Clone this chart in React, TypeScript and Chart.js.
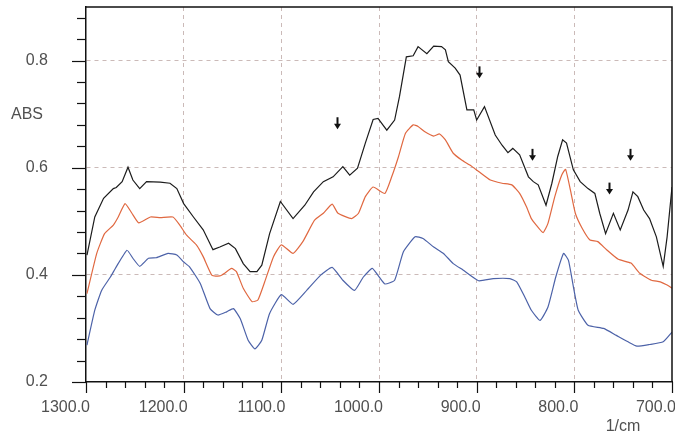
import React, { useEffect, useRef } from "react";
import { Chart, registerables } from "chart.js";

Chart.register(...registerables);

// Black spectrum (wavenumber, ABS)
const blackX = [1299, 1291, 1282, 1272, 1269, 1263, 1257, 1252, 1245, 1238, 1224, 1214, 1207, 1200, 1190, 1180, 1170, 1163, 1154, 1147, 1139, 1132, 1125, 1120, 1112, 1101, 1088, 1076, 1067, 1057, 1047, 1037, 1030, 1022, 1014, 1006, 1001, 992, 984, 979, 972, 965, 960, 951, 944, 936, 932, 929, 922, 917, 910, 903, 900, 892, 881, 874, 868, 863, 856, 847, 842, 837, 829, 823, 817, 812, 808, 801, 794, 786, 779, 774, 768, 760, 753, 745, 740, 735, 729, 723, 716, 709, 705, 700];
const blackY = [0.437, 0.508, 0.543, 0.561, 0.563, 0.574, 0.601, 0.577, 0.561, 0.574, 0.573, 0.571, 0.561, 0.533, 0.508, 0.484, 0.447, 0.452, 0.459, 0.449, 0.421, 0.406, 0.406, 0.418, 0.477, 0.537, 0.505, 0.530, 0.555, 0.574, 0.583, 0.602, 0.586, 0.599, 0.646, 0.690, 0.692, 0.670, 0.689, 0.733, 0.807, 0.809, 0.826, 0.813, 0.827, 0.826, 0.820, 0.798, 0.786, 0.773, 0.708, 0.708, 0.689, 0.714, 0.661, 0.642, 0.628, 0.636, 0.624, 0.583, 0.574, 0.568, 0.530, 0.571, 0.621, 0.652, 0.646, 0.596, 0.574, 0.561, 0.552, 0.515, 0.477, 0.515, 0.484, 0.521, 0.555, 0.546, 0.521, 0.505, 0.471, 0.416, 0.471, 0.564];

// Orange spectrum
const orangeX = [1299, 1289, 1281, 1272, 1267, 1260, 1253, 1246, 1234, 1224, 1211, 1204, 1197, 1187, 1180, 1171, 1163, 1158, 1151, 1146, 1139, 1130, 1124, 1117, 1108, 1100, 1088, 1078, 1066, 1057, 1048, 1042, 1028, 1021, 1014, 1006, 994, 987, 980, 973, 965, 960, 953, 944, 938, 932, 924, 915, 907, 898, 886, 874, 864, 856, 849, 844, 839, 832, 827, 820, 813, 809, 804, 799, 792, 784, 776, 767, 755, 742, 733, 721, 712, 705, 700];
const orangeY = [0.365, 0.440, 0.477, 0.493, 0.508, 0.533, 0.515, 0.497, 0.508, 0.507, 0.508, 0.493, 0.474, 0.456, 0.434, 0.399, 0.398, 0.403, 0.412, 0.406, 0.375, 0.350, 0.353, 0.387, 0.434, 0.456, 0.440, 0.462, 0.502, 0.515, 0.532, 0.515, 0.505, 0.515, 0.546, 0.564, 0.552, 0.583, 0.621, 0.664, 0.680, 0.677, 0.667, 0.659, 0.663, 0.652, 0.627, 0.614, 0.605, 0.593, 0.577, 0.571, 0.568, 0.552, 0.527, 0.505, 0.493, 0.479, 0.496, 0.546, 0.586, 0.597, 0.558, 0.515, 0.487, 0.465, 0.462, 0.447, 0.429, 0.422, 0.403, 0.390, 0.387, 0.381, 0.375];

// Blue spectrum
const blueX = [1299, 1291, 1284, 1275, 1269, 1258, 1252, 1245, 1236, 1228, 1216, 1207, 1200, 1194, 1183, 1173, 1165, 1156, 1149, 1142, 1134, 1127, 1120, 1112, 1100, 1088, 1074, 1060, 1048, 1037, 1025, 1016, 1007, 1001, 994, 984, 975, 963, 955, 944, 934, 924, 914, 898, 883, 866, 859, 850, 844, 835, 827, 819, 811, 806, 801, 796, 786, 770, 757, 745, 736, 723, 709, 700];
const blueY = [0.269, 0.334, 0.371, 0.396, 0.415, 0.446, 0.431, 0.416, 0.431, 0.432, 0.440, 0.437, 0.424, 0.415, 0.384, 0.337, 0.325, 0.331, 0.337, 0.318, 0.278, 0.262, 0.278, 0.328, 0.363, 0.345, 0.371, 0.399, 0.414, 0.390, 0.371, 0.396, 0.412, 0.399, 0.383, 0.390, 0.443, 0.471, 0.468, 0.452, 0.440, 0.421, 0.409, 0.389, 0.393, 0.393, 0.387, 0.356, 0.334, 0.315, 0.340, 0.396, 0.440, 0.427, 0.378, 0.334, 0.306, 0.300, 0.287, 0.275, 0.267, 0.270, 0.275, 0.293];

// Arrow markers (wavenumber, ABS at arrow centre)
const arrowX = [1043, 898, 843, 765, 743];
const arrowY = [0.683, 0.778, 0.624, 0.561, 0.624];

// Axis ticks
const xMajorTicks = [1300, 1200, 1100, 1000, 900, 800, 700];
const yMajorTicks = [0.2, 0.4, 0.6, 0.8];
const xMinorStep = 20;
const yMinorStep = 0.04;

const FONT = '"Liberation Sans", Arial, sans-serif';
const TEXT_COLOR = "#505050";
const GRID_COLOR = "rgba(200,182,180,0.95)";

const zip = (xs: number[], ys: number[]) => xs.map((x, i) => ({ x, y: ys[i] }));

const zeroPad = (s: any) => {
  s.paddingLeft = 0;
  s.paddingRight = 0;
  s.paddingTop = 0;
  s.paddingBottom = 0;
};

const decorPlugin = {
  id: "decor",
  afterDraw(chart: any) {
    const { ctx, chartArea, scales } = chart;
    const xs = scales.x;
    const ys = scales.y;
    ctx.save();
    // frame top & right
    ctx.strokeStyle = "#111";
    ctx.lineWidth = 1.5;
    ctx.beginPath();
    ctx.moveTo(chartArea.left, chartArea.top);
    ctx.lineTo(chartArea.right, chartArea.top);
    ctx.lineTo(chartArea.right, chartArea.bottom);
    ctx.stroke();
    // x tick marks
    ctx.lineWidth = 1.2;
    for (let v = 700; v <= 1300; v += xMinorStep) {
      const px = Math.round(xs.getPixelForValue(v)) + 0.5;
      const major = v % 100 === 0;
      ctx.beginPath();
      ctx.moveTo(px, chartArea.bottom);
      ctx.lineTo(px, chartArea.bottom + (major ? 11 : 6));
      ctx.stroke();
    }
    // y tick marks
    for (let i = 0; i <= 17; i++) {
      const v = 0.2 + i * yMinorStep;
      const py = Math.round(ys.getPixelForValue(v)) + 0.5;
      const major = i % 5 === 0;
      ctx.beginPath();
      ctx.moveTo(chartArea.left, py);
      ctx.lineTo(chartArea.left - (major ? 14 : 9), py);
      ctx.stroke();
    }
    // arrows
    ctx.fillStyle = "#111";
    ctx.strokeStyle = "#111";
    arrowX.forEach((wx, i) => {
      const cx = Math.round(xs.getPixelForValue(wx)) + 0.5;
      const cy = ys.getPixelForValue(arrowY[i]);
      ctx.lineWidth = 2;
      ctx.beginPath();
      ctx.moveTo(cx, cy - 6);
      ctx.lineTo(cx, cy + 1);
      ctx.stroke();
      ctx.beginPath();
      ctx.moveTo(cx - 3.5, cy + 0.5);
      ctx.lineTo(cx + 3.5, cy + 0.5);
      ctx.lineTo(cx, cy + 6);
      ctx.closePath();
      ctx.fill();
    });
    // axis titles
    ctx.fillStyle = TEXT_COLOR;
    ctx.font = `16px ${FONT}`;
    ctx.textBaseline = "middle";
    ctx.textAlign = "left";
    ctx.fillText("ABS", 11, 115);
    ctx.textAlign = "center";
    ctx.fillText("1/cm", 623, 427);
    ctx.restore();
  },
};

export default function App() {
  const ref = useRef<HTMLCanvasElement | null>(null);
  useEffect(() => {
    document.body.style.margin = "0";
    const canvas = ref.current;
    if (!canvas) return;
    const lineDs = (label: string, xs: number[], ys: number[], color: string) => ({
      label,
      data: zip(xs, ys),
      borderColor: color,
      borderWidth: 1.2,
      pointRadius: 0,
      tension: 0.15,
      fill: false,
    });
    const chart = new Chart(canvas, {
      type: "line",
      data: {
        datasets: [
          lineDs("blue", blueX, blueY, "#4c62a8"),
          lineDs("orange", orangeX, orangeY, "#e06840"),
          { ...lineDs("black", blackX, blackY, "#1c1c1c"), tension: 0 },
        ],
      },
      plugins: [decorPlugin],
      options: {
        animation: false,
        responsive: false,
        layout: { padding: { top: 7, right: 3, left: 0, bottom: 0 } },
        plugins: { legend: { display: false }, tooltip: { enabled: false } },
        scales: {
          x: {
            type: "linear",
            reverse: true,
            min: 700,
            max: 1300,
            afterFit: (s: any) => {
              s.height = 53;
              zeroPad(s);
            },
            afterBuildTicks: (s: any) => {
              s.ticks = xMajorTicks.map((v) => ({ value: v }));
            },
            ticks: {
              autoSkip: false,
              maxRotation: 0,
              padding: 16,
              align: "end",
              labelOffset: 4,
              color: TEXT_COLOR,
              font: { family: FONT, size: 16 },
              callback: (v: any) => Number(v).toFixed(1),
            },
            grid: {
              color: (c: any) =>
                c.tick && (c.tick.value === 700 || c.tick.value === 1300) ? "transparent" : GRID_COLOR,
              drawTicks: false,
              lineWidth: 1,
            },
            border: { display: true, color: "#111", width: 1.5, dash: [4, 4] },
          },
          y: {
            type: "linear",
            min: 0.2,
            max: 0.9,
            afterFit: (s: any) => {
              s.width = 86;
              zeroPad(s);
            },
            afterBuildTicks: (s: any) => {
              s.ticks = yMajorTicks.map((v) => ({ value: v }));
            },
            ticks: {
              padding: 38,
              color: TEXT_COLOR,
              font: { family: FONT, size: 16 },
              callback: (v: any) => Number(v).toFixed(1),
            },
            grid: {
              color: (c: any) => (c.tick && c.tick.value === 0.2 ? "transparent" : GRID_COLOR),
              drawTicks: false,
              lineWidth: 1,
            },
            border: { display: true, color: "#111", width: 1.5, dash: [4, 4] },
          },
        },
      },
    } as any);
    return () => chart.destroy();
  }, []);
  return (
    <div style={{ width: 675, height: 435 }}>
      <canvas ref={ref} width={675} height={435} style={{ display: "block" }} />
    </div>
  );
}
